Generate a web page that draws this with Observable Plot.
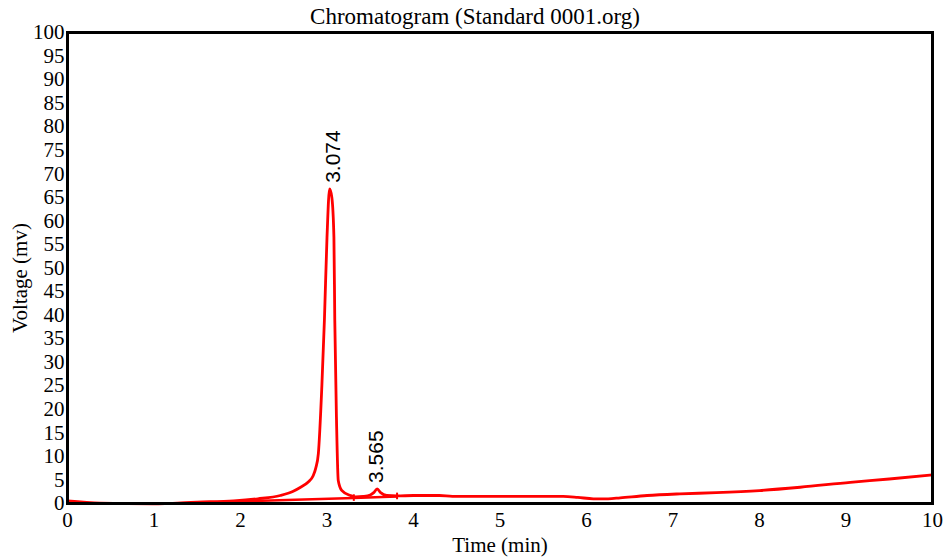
<!DOCTYPE html>
<html>
<head>
<meta charset="utf-8">
<script src="https://cdn.jsdelivr.net/npm/d3@7"></script>
<script src="https://cdn.jsdelivr.net/npm/@observablehq/plot@0.6"></script>
<style>
  html, body { margin: 0; padding: 0; background: #fff; }
  #chart svg { display: block; font-family: 'Liberation Serif', 'Times New Roman', serif !important; }
</style>
</head>
<body>
<div id="chart"></div>
<script>
// Trace (time in min, voltage in mV)
const traceTime = [0, 0.38, 0.99, 1.5, 1.92, 2.2, 2.46, 2.61, 2.69, 2.78, 2.84, 2.87, 2.9, 2.94, 2.97, 3.0, 3.03, 3.056, 3.08, 3.09, 3.11, 3.13, 3.17, 3.27, 3.33, 3.42, 3.5, 3.54, 3.58, 3.62, 3.69, 3.81, 4.0, 4.3, 4.45, 5.0, 5.5, 5.73, 5.9, 6.08, 6.25, 6.39, 6.7, 7.08, 7.5, 8.0, 8.47, 9.05, 9.5, 10.0];
const traceVolt = [0.55, 0.1, -0.05, 0.3, 0.55, 1.0, 1.7, 2.6, 3.4, 4.5, 5.9, 7.5, 10.6, 24.7, 38.9, 56.5, 66.8, 65.0, 56.5, 38.9, 17.6, 4.9, 2.8, 1.7, 1.4, 1.5, 1.8, 2.3, 3.1, 2.3, 1.7, 1.6, 1.7, 1.7, 1.5, 1.5, 1.5, 1.5, 1.3, 1.0, 1.0, 1.2, 1.7, 2.05, 2.3, 2.75, 3.45, 4.5, 5.2, 6.1];

// Integration baseline segments
const baseStart = [1.09, 3.31];
const baseEnd = [3.31, 3.81];
const baseStartVolt = [-0.05, 1.15];
const baseEndVolt = [1.15, 1.5];

// Peak labels
const peakTime = [3.074, 3.565];
const peakHeight = [66.8, 3.1];
const peakLabel = ["3.074", "3.565"];

// Axis ticks
const xTicks = [0, 1, 2, 3, 4, 5, 6, 7, 8, 9, 10];
const yTicks = [0, 5, 10, 15, 20, 25, 30, 35, 40, 45, 50, 55, 60, 65, 70, 75, 80, 85, 90, 95, 100];

const title = "Chromatogram (Standard 0001.org)";
const xLabel = "Time (min)";
const yLabel = "Voltage (mv)";

const trace = traceTime.map((t, i) => ({t, v: traceVolt[i]}));
const baseline = baseStart.map((s, i) => ({x1: s, x2: baseEnd[i], y1: baseStartVolt[i], y2: baseEndVolt[i]}));
const baseTicks = baseEnd.map((t, i) => ({t, v: baseEndVolt[i]}));
const peaks = peakTime.map((t, i) => ({t, v: peakHeight[i], label: peakLabel[i]}));

const serif = "'Liberation Serif', 'Times New Roman', serif";
const sans = "'Liberation Sans', Arial, sans-serif";

const chart = Plot.plot({
  width: 948,
  height: 559,
  marginLeft: 67,
  marginRight: 16,
  marginTop: 32,
  marginBottom: 56,
  style: {fontFamily: serif, fontSize: "21px", color: "black", background: "white", overflow: "visible"},
  x: {domain: [0, 10]},
  y: {domain: [0, 100]},
  marks: [
    Plot.axisX({ticks: xTicks, tickSize: 0, tickPadding: 9, label: null, fontSize: 21, fontFamily: serif}),
    Plot.axisY({ticks: yTicks, tickSize: 0, tickPadding: 3, label: null, fontSize: 21, fontFamily: serif}),
    Plot.link(baseline, {x1: "x1", x2: "x2", y1: "y1", y2: "y2", stroke: "#ff0000", strokeWidth: 2.5}),
    Plot.ruleX(baseTicks, {x: "t", y1: d => d.v - 0.7, y2: d => d.v + 0.7, stroke: "#ff0000", strokeWidth: 2}),
    Plot.line(trace, {x: "t", y: "v", stroke: "#ff0000", strokeWidth: 2.8, curve: "monotone-x"}),
    Plot.text(peaks, {x: "t", y: "v", text: "label", rotate: -90, textAnchor: "start", dy: -6, fontSize: 21, fontFamily: sans, fill: "black"}),
    Plot.frame({stroke: "black", strokeWidth: 3}),
    Plot.text([title], {frameAnchor: "top", lineAnchor: "middle", textAnchor: "middle", dx: -25, dy: -16, fontSize: 23, fontFamily: serif, fill: "black"}),
    Plot.text([xLabel], {frameAnchor: "bottom", lineAnchor: "middle", textAnchor: "middle", dy: 42, fontSize: 21, fontFamily: serif, fill: "black"}),
    Plot.text([yLabel], {frameAnchor: "left", textAnchor: "middle", lineAnchor: "middle", dx: -47, dy: 10, rotate: -90, fontSize: 21, fontFamily: serif, fill: "black"})
  ]
});
document.getElementById("chart").appendChild(chart);
</script>
</body>
</html>
